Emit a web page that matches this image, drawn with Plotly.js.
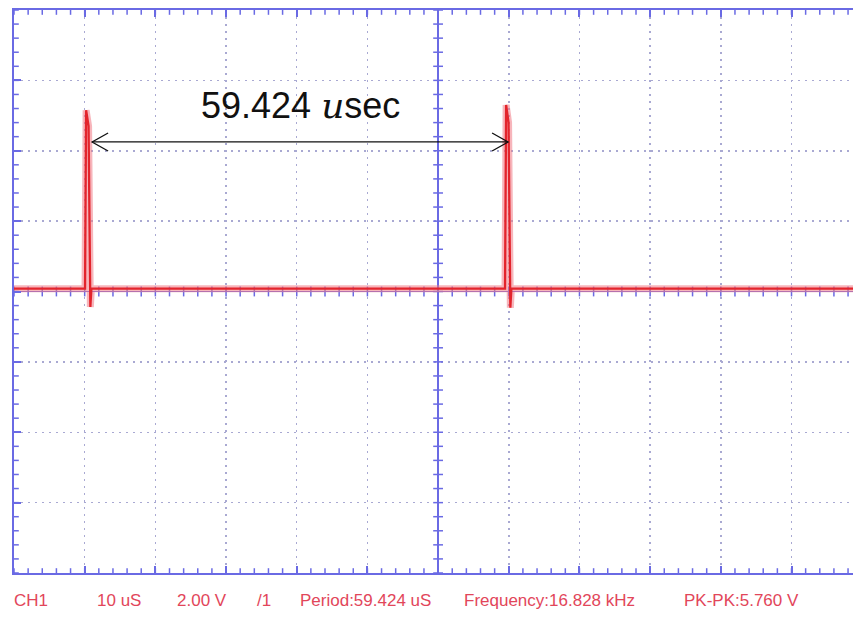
<!DOCTYPE html>
<html>
<head>
<meta charset="utf-8">
<script src="https://cdn.plot.ly/plotly-3.0.1.min.js"></script>
<style>
  html, body { margin: 0; padding: 0; background: #ffffff; }
  #scope { width: 853px; height: 619px; }
</style>
</head>
<body>
<div id="scope"></div>
<script>
// Captured CH1 waveform: time in microseconds (0 = screen centre), level in volts
const timeUs = [-60, -49.95, -49.8, -49.45, -49.2, -49.05, 9.47, 9.624, 9.97, 10.22, 10.37, 58.7];
const voltsV = [0.08, 0.08, 5.15, 4.7, -0.44, 0.08, 0.08, 5.30, 4.8, -0.46, 0.08, 0.08];

// Cursor measurement between the two pulses
const periodUs = 59.424;
const cursorTimesUs = [-48.95, 9.9];
const cursorLevelV = 4.25;
const cursorLabelLevelV = 5.3;

// Status line of the scope
const statusItems = ['CH1', '10 uS', '2.00 V', '/1', 'Period:59.424 uS', 'Frequency:16.828 kHz', 'PK-PK:5.760 V'];

// Screen: 10 uS/div horizontally, 2 V/div vertically, 5 sub-divisions each
const xRange = [-60, 58.7];
const yRange = [-8, 8];
const usPerDiv = 10, vPerDiv = 2, subDivs = 5;

const W = 853, H = 619;
const M = { l: 14, r: 0, t: 10, b: 46 };
const plotW = W - M.l - M.r, plotH = H - M.t - M.b;
const pxPerUs = plotW / (xRange[1] - xRange[0]);
const pxPerV = plotH / (yRange[1] - yRange[0]);

const frameBlue = '#6a6ae4';
const gridGrey = '#a9a9d2';
const traceRed = '#e3242c';
const statusRed = '#e2465a';

// Sub-division graticule ticks: along the centre cross (crossing) and inside the frame
const subX = [], subY = [];
for (let i = Math.ceil(xRange[0] * subDivs / usPerDiv); i * usPerDiv / subDivs <= xRange[1]; i++) subX.push(i * usPerDiv / subDivs);
for (let i = Math.ceil(yRange[0] * subDivs / vPerDiv); i * vPerDiv / subDivs <= yRange[1]; i++) subY.push(i * vPerDiv / subDivs);
const frameTickPx = 4;
const inX = (frameTickPx / 2) / pxPerUs, inY = (frameTickPx / 2) / pxPerV;

function tickTrace(xs, ys, symbol, size) {
  return { x: xs, y: ys, type: 'scatter', mode: 'markers', cliponaxis: false,
    marker: { symbol: symbol, size: size, color: frameBlue, line: { color: frameBlue, width: 1.5 } },
    hoverinfo: 'skip', showlegend: false };
}

const traces = [
  tickTrace(subX, subX.map(() => 0), 'line-ns-open', 7),
  tickTrace(subY.map(() => 0), subY, 'line-ew-open', 7),
  tickTrace(subX, subX.map(() => yRange[1] - inY), 'line-ns-open', frameTickPx),
  tickTrace(subX, subX.map(() => yRange[0] + inY), 'line-ns-open', frameTickPx),
  tickTrace(subY.map(() => xRange[0] + inX), subY, 'line-ew-open', frameTickPx),
  { x: timeUs, y: voltsV, type: 'scatter', mode: 'lines',
    line: { color: 'rgba(240,120,132,0.55)', width: 7, simplify: false },
    hoverinfo: 'skip', showlegend: false },
  { x: timeUs, y: voltsV, type: 'scatter', mode: 'lines',
    line: { color: traceRed, width: 2.3, simplify: false },
    showlegend: false }
];

const pxToPaperX = px => (px - M.l) / plotW;
const pxToPaperY = py => (M.t + plotH - py) / plotH;
const statusX = [12, 95, 175, 255, 298, 462, 682];

const annotations = [
  { x: (cursorTimesUs[0] + cursorTimesUs[1]) / 2, y: cursorLabelLevelV, xref: 'x', yref: 'y',
    text: periodUs.toFixed(3) + ' <span style="font-family:\'DejaVu Serif\';font-style:italic">u</span>sec',
    showarrow: false, xanchor: 'center', yanchor: 'middle',
    font: { family: 'Liberation Sans, Arial, sans-serif', size: 36, color: '#111111' } }
];
statusItems.forEach((t, i) => {
  annotations.push({ x: pxToPaperX(statusX[i]), y: pxToPaperY(601), xref: 'paper', yref: 'paper',
    text: t, showarrow: false, xanchor: 'left', yanchor: 'middle',
    font: { family: 'Liberation Sans, Arial, sans-serif', size: 17, color: statusRed } });
});

const chevron = 'M16,9 L0,0 L16,-9';
const chevronR = 'M-16,9 L0,0 L-16,-9';
const shapes = [
  { type: 'line', xref: 'x', yref: 'y', x0: cursorTimesUs[0], x1: cursorTimesUs[1],
    y0: cursorLevelV, y1: cursorLevelV, line: { color: '#111111', width: 1.3 } },
  { type: 'path', xref: 'x', yref: 'y', xsizemode: 'pixel', ysizemode: 'pixel',
    xanchor: cursorTimesUs[0], yanchor: cursorLevelV, path: chevron, line: { color: '#111111', width: 1.3 } },
  { type: 'path', xref: 'x', yref: 'y', xsizemode: 'pixel', ysizemode: 'pixel',
    xanchor: cursorTimesUs[1], yanchor: cursorLevelV, path: chevronR, line: { color: '#111111', width: 1.3 } }
];

const layout = {
  width: W, height: H, margin: M,
  paper_bgcolor: '#ffffff', plot_bgcolor: '#ffffff',
  showlegend: false,
  xaxis: {
    range: xRange, autorange: false, fixedrange: true,
    tick0: 0, dtick: usPerDiv, showticklabels: false,
    showgrid: true, gridcolor: gridGrey, gridwidth: 1.5, griddash: '2px,5px',
    zeroline: true, zerolinecolor: frameBlue, zerolinewidth: 1.6,
    showline: true, linecolor: frameBlue, linewidth: 2, mirror: 'ticks',
    ticks: 'inside', ticklen: 7, tickwidth: 2, tickcolor: frameBlue
  },
  yaxis: {
    range: yRange, autorange: false, fixedrange: true,
    tick0: 0, dtick: vPerDiv, showticklabels: false,
    showgrid: true, gridcolor: gridGrey, gridwidth: 1.5, griddash: '2px,5px',
    zeroline: true, zerolinecolor: frameBlue, zerolinewidth: 1.6,
    showline: true, linecolor: frameBlue, linewidth: 2, mirror: false,
    ticks: 'inside', ticklen: 7, tickwidth: 2, tickcolor: frameBlue
  },
  annotations: annotations,
  shapes: shapes
};

Plotly.newPlot('scope', traces, layout, { staticPlot: true, displayModeBar: false });
</script>
</body>
</html>
